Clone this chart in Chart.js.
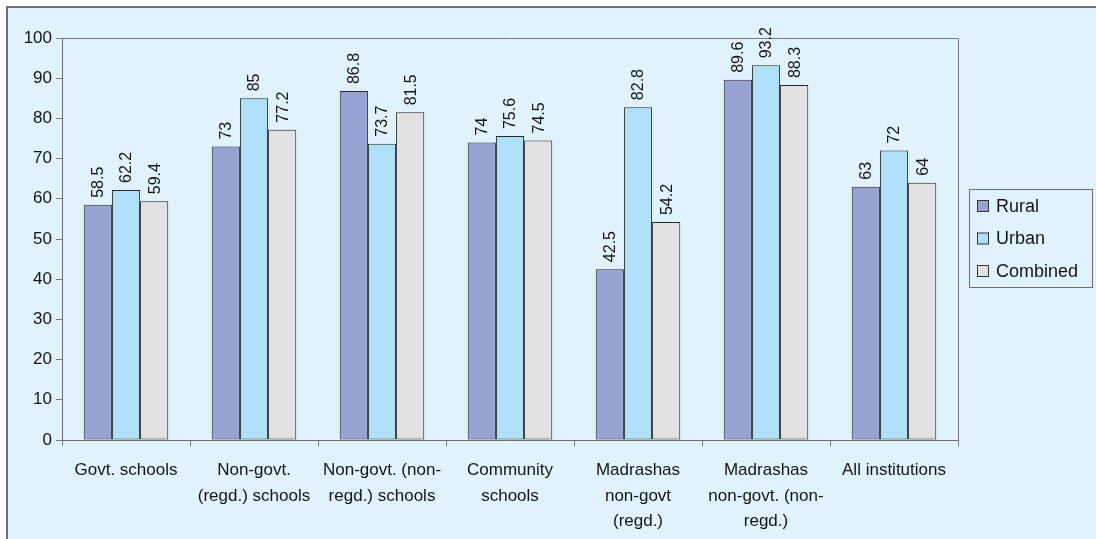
<!DOCTYPE html>
<html lang="en">
<head>
    <meta charset="UTF-8">
    <title>Rural / Urban / Combined by institution type</title>
    <script src="https://cdn.jsdelivr.net/npm/chart.js"></script>
    <style>
        html, body {
            margin: 0;
            padding: 0;
            background: #FFFFFF;
        }
        .chart-container {
            width: 1096px;
            height: 539px;
        }
    </style>
</head>
<body>
    <div class="chart-container">
        <canvas id="chart" width="1096" height="539"></canvas>
    </div>
    <script>
        const categories = [
            "Govt. schools",
            ["Non-govt.", "(regd.) schools"],
            ["Non-govt. (non-", "regd.) schools"],
            ["Community", "schools"],
            ["Madrashas", "non-govt", "(regd.)"],
            ["Madrashas", "non-govt. (non-", "regd.)"],
            "All institutions"
        ];
        const rural = [58.5, 73, 86.8, 74, 42.5, 89.6, 63];
        const urban = [62.2, 85, 73.7, 75.6, 82.8, 93.2, 72];
        const combined = [59.4, 77.2, 81.5, 74.5, 54.2, 88.3, 64];
        const yTicks = [0, 10, 20, 30, 40, 50, 60, 70, 80, 90, 100];

        const FONT = "'Liberation Sans', Arial, sans-serif";
        const BG = "#E0F2FC";
        const FRAME = "#6E6E6E";
        const INK = "#141414";

        // background, outer frame and the top/right edges of the plot area
        const framePlugin = {
            id: 'frame',
            beforeDraw(chart) {
                const c = chart.ctx;
                c.save();
                c.fillStyle = "#FFFFFF";
                c.fillRect(0, 0, chart.width, chart.height);
                c.fillStyle = BG;
                c.fillRect(7, 7, chart.width - 7, chart.height - 7);
                c.strokeStyle = FRAME;
                c.lineWidth = 2;
                c.beginPath();
                c.moveTo(7, chart.height);
                c.lineTo(7, 7);
                c.lineTo(chart.width, 7);
                c.stroke();
                const a = chart.chartArea;
                c.strokeStyle = "#7A7A7A";
                c.lineWidth = 1;
                c.beginPath();
                c.moveTo(Math.round(a.left) + 0.5, Math.round(a.top) + 0.5);
                c.lineTo(Math.round(a.right) + 0.5, Math.round(a.top) + 0.5);
                c.lineTo(Math.round(a.right) + 0.5, Math.round(a.bottom) + 6);
                c.stroke();
                c.restore();
            }
        };

        // rotated value labels above each bar
        const valueLabels = {
            id: 'valueLabels',
            afterDatasetsDraw(chart) {
                const c = chart.ctx;
                c.save();
                c.font = "16px " + FONT;
                c.fillStyle = INK;
                c.textAlign = "left";
                c.textBaseline = "middle";
                chart.data.datasets.forEach((ds, i) => {
                    chart.getDatasetMeta(i).data.forEach((bar, j) => {
                        c.save();
                        c.translate(bar.x + 1, bar.y - 7);
                        c.rotate(-Math.PI / 2);
                        c.fillText(String(ds.data[j]), 0, 0);
                        c.restore();
                    });
                });
                c.restore();
            }
        };

        // boxed legend on the right
        const boxLegend = {
            id: 'boxLegend',
            afterDraw(chart) {
                const c = chart.ctx;
                const x = 969, y = 189, w = 123, h = 98;
                c.save();
                c.fillStyle = BG;
                c.fillRect(x, y, w, h);
                c.strokeStyle = "#707070";
                c.lineWidth = 1;
                c.strokeRect(x + 0.5, y + 0.5, w, h);
                c.font = "18px " + FONT;
                c.textBaseline = "middle";
                c.textAlign = "left";
                chart.data.datasets.forEach((ds, i) => {
                    const cy = y + 17 + i * 32.5;
                    c.fillStyle = ds.backgroundColor;
                    c.fillRect(977.5, cy - 5.5, 11, 11);
                    c.strokeStyle = "#333333";
                    c.strokeRect(977.5, cy - 5.5, 11, 11);
                    c.fillStyle = INK;
                    c.fillText(ds.label, 996, cy + 1);
                });
                c.restore();
            }
        };

        const barStyle = {
            borderColor: "#262626",
            borderWidth: 1,
            borderSkipped: false,
            categoryPercentage: 0.66,
            barPercentage: 1.0
        };

        const ctx = document.getElementById('chart').getContext('2d');
        const chart = new Chart(ctx, {
            type: 'bar',
            data: {
                labels: categories,
                datasets: [
                    Object.assign({ label: "Rural", data: rural, backgroundColor: "#98A3D4" }, barStyle),
                    Object.assign({ label: "Urban", data: urban, backgroundColor: "#AEE1F9" }, barStyle),
                    Object.assign({ label: "Combined", data: combined, backgroundColor: "#E1E1E1" }, barStyle)
                ]
            },
            options: {
                responsive: false,
                animation: false,
                layout: {
                    padding: { left: 0, right: 138, top: 38, bottom: 0 }
                },
                plugins: {
                    legend: { display: false },
                    tooltip: { enabled: false }
                },
                scales: {
                    x: {
                        grid: {
                            display: true,
                            drawOnChartArea: false,
                            tickLength: 6,
                            color: "#7A7A7A",
                            offset: true
                        },
                        border: { color: "#6E6E6E", width: 1 },
                        ticks: {
                            color: INK,
                            font: { family: FONT, size: 17, lineHeight: 1.5 },
                            maxRotation: 0,
                            autoSkip: false,
                            padding: 12
                        },
                        afterFit(scale) { scale.height = 99; }
                    },
                    y: {
                        min: 0,
                        max: 100,
                        afterBuildTicks(scale) {
                            scale.ticks = yTicks.map(v => ({ value: v }));
                        },
                        grid: {
                            display: true,
                            drawOnChartArea: false,
                            tickLength: 6,
                            color: "#7A7A7A"
                        },
                        border: { color: "#6E6E6E", width: 1 },
                        ticks: {
                            color: INK,
                            font: { family: FONT, size: 17 },
                            padding: 4
                        },
                        afterFit(scale) { scale.width = 62; }
                    }
                }
            },
            plugins: [framePlugin, valueLabels, boxLegend]
        });
    </script>
</body>
</html>
